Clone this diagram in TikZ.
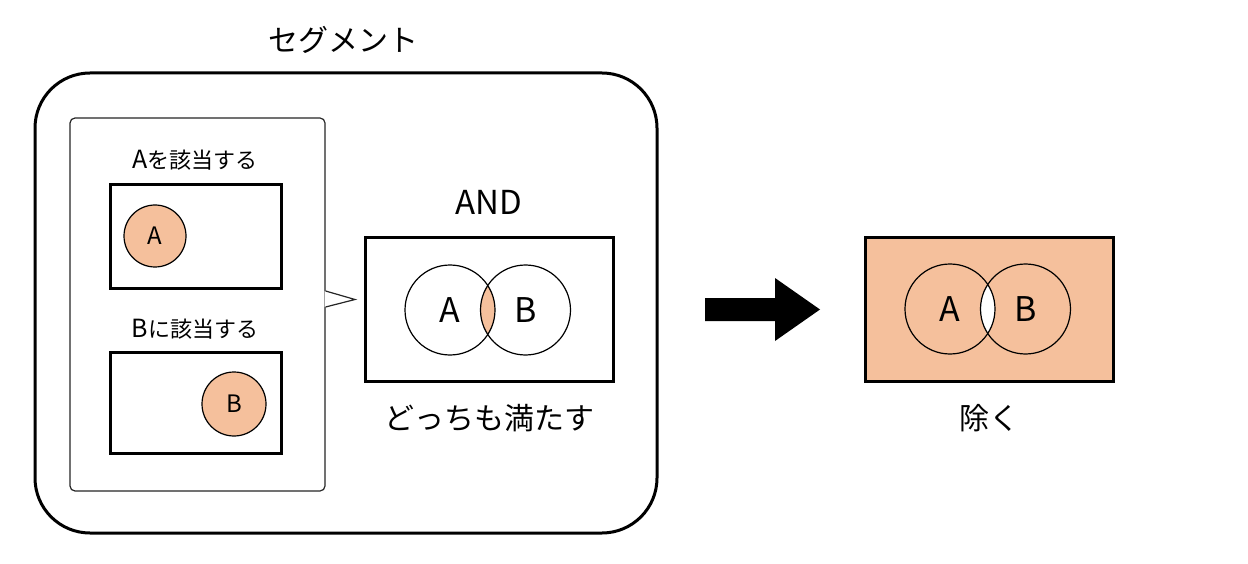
\documentclass[tikz,border=0pt]{standalone}
\usepackage{fontspec}
\setmainfont{Noto Sans CJK JP}
\usetikzlibrary{positioning}
\definecolor{salmon}{HTML}{F5C09C}

\begin{document}
\begin{tikzpicture}[x=1pt, y=-1pt,
lbl/.style={inner sep=0pt, font=\fontsize{#1}{#1}\selectfont}, lbl/.default=30,
frame/.style={draw, line width=3pt, inner sep=0pt},
setc/.style={circle, draw, line width=1.2pt, minimum size=#1, inner sep=0pt},]
%background and margins
\useasboundingbox[fill=white] (0,0) rectangle (1248,564);
	\node[lbl=30] (title) at (343,40) {セグメント};
	\node[frame, rounded corners=55pt, minimum width=622pt, minimum height=460pt] (seg) at (346,303) {};
	\node[draw=black!85, line width=1.2pt, rounded corners=5pt, minimum width=255pt, minimum height=373pt] (cond) at (197.5,304.5) {};
	\coordinate (tip) at (355,299.5);
	\fill[white] ([xshift=-1pt,yshift=13.5pt]cond.east) -- (tip) -- ([xshift=-1pt,yshift=-2.5pt]cond.east) -- cycle;
	\draw[black!85, line width=1.2pt] ([yshift=13.5pt]cond.east) -- (tip) -- ([yshift=-2.5pt]cond.east);
	\node[lbl=22] (aLbl) at (195,160) {{\fontsize{25}{25}\selectfont A}を該当する};
	\node[frame, minimum width=171pt, minimum height=103pt] (aBox) at (195.5,236.5) {};
	\node[setc=62pt, fill=salmon, lbl=24] (aCirc) at (155,236) {A};
	\node[lbl=22] (bLbl) at (195,329) {{\fontsize{25}{25}\selectfont B}に該当する};
	\node[frame, minimum width=171pt, minimum height=101pt] (bBox) at (195.5,402.5) {};
	\node[setc=64pt, fill=salmon, lbl=24] (bCirc) at (234,404) {B};
	\node[lbl=33] (andLbl) at (489,202) {AND};
	\node[frame, minimum width=248pt, minimum height=143pt] (andBox) at (489,309.5) {};
	\coordinate (andA) at (450,310);
	\coordinate (andB) at (525.5,310);
	\begin{scope}
		\clip (andA) circle[radius=45];
		\fill[salmon] (andB) circle[radius=45];
	\end{scope}
	\node[setc=90pt, lbl=34] (andAc) at (andA) {A};
	\node[setc=90pt, lbl=34] (andBc) at (andB) {B};
	\node[lbl=30] (andTxt) at (489,418) {どっちも満たす};
	\fill (705,298) -- (775,298) -- (775,278) -- (820,309.5) -- (775,341) -- (775,321) -- (705,321) -- cycle;
	\node[frame, fill=salmon, minimum width=248pt, minimum height=143pt] (resBox) at (989,309.5) {};
	\coordinate (resA) at (950,309);
	\coordinate (resB) at (1025.5,309);
	\begin{scope}
		\clip (resA) circle[radius=45];
		\fill[white] (resB) circle[radius=45];
	\end{scope}
	\node[setc=90pt, lbl=34] (resAc) at (resA) {A};
	\node[setc=90pt, lbl=34] (resBc) at (resB) {B};
	\node[lbl=30] (resTxt) at (989,418) {除く};
\end{tikzpicture}
\end{document}
